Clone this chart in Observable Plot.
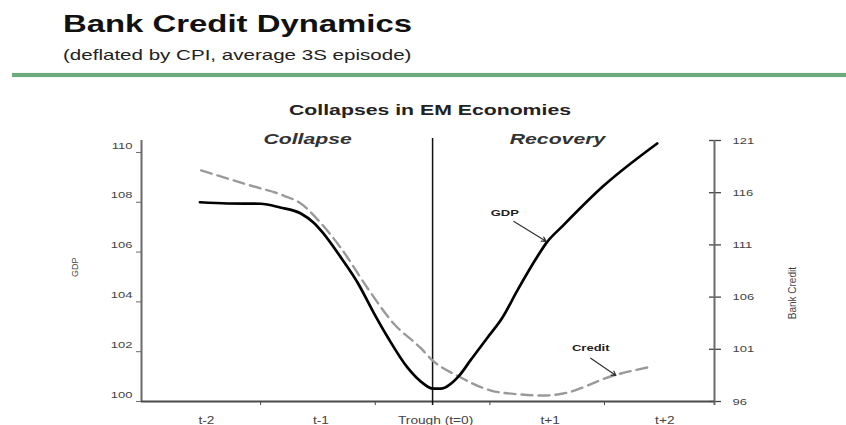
<!DOCTYPE html>
<html>
<head>
<meta charset="utf-8">
<script src="https://cdn.jsdelivr.net/npm/d3@7"></script>
<script src="https://cdn.jsdelivr.net/npm/@observablehq/plot@0.6"></script>
<style>
  html, body { margin: 0; padding: 0; background: #fff; }
  body { width: 846px; height: 425px; overflow: hidden; position: relative;
         font-family: "Liberation Sans", Arial, sans-serif; }
  #title { position: absolute; left: 63px; top: 12px; font-size: 24px; font-weight: bold;
           line-height: 1; color: #111; white-space: nowrap;
           transform: scaleX(1.37); transform-origin: left top; }
  #subtitle { position: absolute; left: 63px; top: 47px; font-size: 15px; line-height: 1;
              color: #222; white-space: nowrap;
              transform: scaleX(1.37); transform-origin: left top; }
  #rule { position: absolute; left: 12px; right: 0; top: 73px; height: 4px;
          background: #6daa7c; box-shadow: 0 0 1px #9fcaa8; }
  #chart { position: absolute; left: 0; top: 80px; }
</style>
</head>
<body>
<div id="title">Bank Credit Dynamics</div>
<div id="subtitle">(deflated by CPI, average 3S episode)</div>
<div id="rule"></div>
<div id="chart"></div>
<script>
// Period index relative to the trough (t = 0)
const gdpT = [-2.03, -1.79, -1.50, -1.33, -1.15, -1.04, -0.96, -0.80, -0.65, -0.51, -0.39, -0.22, -0.08,
              0.00, 0.07, 0.24, 0.33, 0.48, 0.61, 0.74, 0.92, 0.99, 1.14, 1.49, 1.96];
const gdpIndex = [108.00, 107.95, 107.94, 107.79, 107.55, 107.19, 106.79, 105.78, 104.74, 103.53, 102.57, 101.37, 100.72,
                  100.52, 100.52, 101.08, 101.65, 102.57, 103.37, 104.46, 105.86, 106.35, 107.07, 108.65, 110.36];

const creditT = [-2.02, -1.59, -1.30, -1.15, -0.98, -0.80, -0.57, -0.34, -0.10, 0.00, 0.23, 0.51,
                 0.77, 0.97, 1.14, 1.58, 1.89];
const creditIndex = [118.13, 116.69, 115.73, 114.97, 113.15, 110.70, 106.90, 103.47, 101.08, 99.93, 98.39, 97.05,
                     96.67, 96.57, 96.77, 98.49, 99.30];

// Axes
const gdpTicks = [100, 102, 104, 106, 108, 110];
const creditTicks = [96, 101, 106, 111, 116, 121];
const periodT = [-2, -1, 0, 1, 2];
const periodLabels = ["t-2", "t-1", "Trough (t=0)", "t+1", "t+2"];
const periodEdges = [-1.5, -0.5, 0.5, 1.5];
const phaseT = [-1.09, 1.09];
const phaseLabels = ["Collapse", "Recovery"];

// Callouts (label and arrow positions in each series' own units)
const calloutNames = ["GDP", "Credit"];
const calloutSeries = ["gdp", "credit"];
const calloutLabelT = [0.63, 1.38];
const calloutLabelV = [107.56, 101.12];
const arrowFromT = [0.71, 1.38];
const arrowFromV = [107.23, 100.15];
const arrowToT = [0.99, 1.60];
const arrowToV = [106.43, 98.49];

const tDomain = [-2.54, 2.46];
const gdpDomain = [100, 110.48];
const creditDomain = [96, 121];

// Bank credit shares the vertical scale with GDP through a linear mapping
const k = (gdpDomain[1] - gdpDomain[0]) / (creditDomain[1] - creditDomain[0]);
const creditToGdp = c => gdpDomain[0] + (c - creditDomain[0]) * k;
const gdpToCredit = g => creditDomain[0] + (g - gdpDomain[0]) / k;
const onScale = (series, v) => series === "credit" ? creditToGdp(v) : v;

const gdp = gdpT.map((t, i) => ({t, v: gdpIndex[i]}));
const credit = creditT.map((t, i) => ({t, v: creditToGdp(creditIndex[i])}));
const callouts = calloutNames.map((name, i) => ({
  name,
  lt: calloutLabelT[i], lv: onScale(calloutSeries[i], calloutLabelV[i]),
  x1: arrowFromT[i], y1: onScale(calloutSeries[i], arrowFromV[i]),
  x2: arrowToT[i], y2: onScale(calloutSeries[i], arrowToV[i])
}));
const periods = periodT.map((t, i) => ({t, label: periodLabels[i]}));
const phases = phaseT.map((t, i) => ({t, label: phaseLabels[i]}));

const axisGray = "#6a6a6a";
const textGray = "#444";

const chart = Plot.plot({
  width: 846,
  height: 345,
  marginTop: 60,
  marginRight: 132,
  marginBottom: 24,
  marginLeft: 141,
  style: {fontFamily: "'Liberation Sans', Arial, sans-serif", fontSize: "10px", color: textGray, background: "#fff"},
  x: {domain: tDomain},
  y: {domain: gdpDomain},
  marks: [
    // chart title and phase headings
    Plot.text(["Collapses in EM Economies"], {frameAnchor: "top", dx: 2, dy: -37, fontSize: 15.5, fontWeight: "bold", fill: "#222"}),
    Plot.text(phases, {x: "t", text: "label", frameAnchor: "top", dy: -8, fontSize: 15.5, fontWeight: "bold", fontStyle: "italic", fill: "#333"}),

    // left GDP axis
    Plot.axisY({anchor: "left", ticks: gdpTicks, tickSize: 5, tickFormat: () => "", stroke: axisGray, label: null}),
    Plot.text(gdpTicks, {y: d => d, text: d => String(d), frameAnchor: "left", dx: -9, dy: -7, textAnchor: "end", fontSize: 9.5, fill: textGray}),
    Plot.text(["GDP"], {frameAnchor: "left", dx: -66, dy: 6, rotate: -90, fontSize: 9, fill: textGray}),

    // right bank credit axis
    Plot.axisY({anchor: "right", ticks: creditTicks.map(creditToGdp), tickSize: 6, tickPadding: 12,
                tickFormat: d => String(Math.round(gdpToCredit(d))), stroke: "#444", strokeWidth: 1.3,
                fontSize: 9.5, label: null}),
    Plot.axisY({anchor: "right", ticks: creditTicks.map(creditToGdp), tickSize: -6, tickFormat: () => "",
                stroke: "#444", strokeWidth: 1.3, label: null}),
    Plot.text(["Bank Credit"], {frameAnchor: "right", dx: 78, dy: -4, rotate: -90, fontSize: 10, fill: textGray}),

    // bottom period axis
    Plot.axisX({ticks: periodEdges, tickSize: 4, tickFormat: () => "", stroke: "#444", label: null}),
    Plot.text(periods, {x: "t", text: "label", frameAnchor: "bottom", dx: 3, dy: 22, fontSize: 10, fill: textGray}),

    // axis lines
    Plot.ruleX([tDomain[0]], {stroke: axisGray, strokeWidth: 2}),
    Plot.ruleX([tDomain[1]], {stroke: axisGray, strokeWidth: 2, insetBottom: -4}),
    Plot.ruleY([gdpDomain[0]], {stroke: "#4a4a4a", strokeWidth: 2}),

    // trough marker
    Plot.ruleX([0], {stroke: "#111", strokeWidth: 1.5, insetTop: -2, insetBottom: -4}),

    // series
    Plot.line(credit, {x: "t", y: "v", stroke: "#9a9a9a", strokeWidth: 2.4, strokeDasharray: "11,6", curve: "monotone-x"}),
    Plot.line(gdp, {x: "t", y: "v", stroke: "#000", strokeWidth: 2.7, curve: "monotone-x"}),

    // callouts
    Plot.arrow(callouts, {x1: "x1", y1: "y1", x2: "x2", y2: "y2", stroke: "#333", strokeWidth: 1.2, headLength: 6}),
    Plot.text(callouts, {x: "lt", y: "lv", text: "name", fontSize: 9.5, fontWeight: "bold", fill: "#222"})
  ]
});

document.getElementById("chart").appendChild(chart);

// Widen the horizontal chart labels to the same proportions as the header type
const STRETCH = 1.37;
chart.querySelectorAll("text").forEach(el => {
  const tr = el.getAttribute("transform") || "";
  if (tr.includes("rotate")) return;
  const w = el.getComputedTextLength();
  if (w > 0) {
    el.setAttribute("textLength", (w * STRETCH).toFixed(1));
    el.setAttribute("lengthAdjust", "spacingAndGlyphs");
  }
});
</script>
</body>
</html>
